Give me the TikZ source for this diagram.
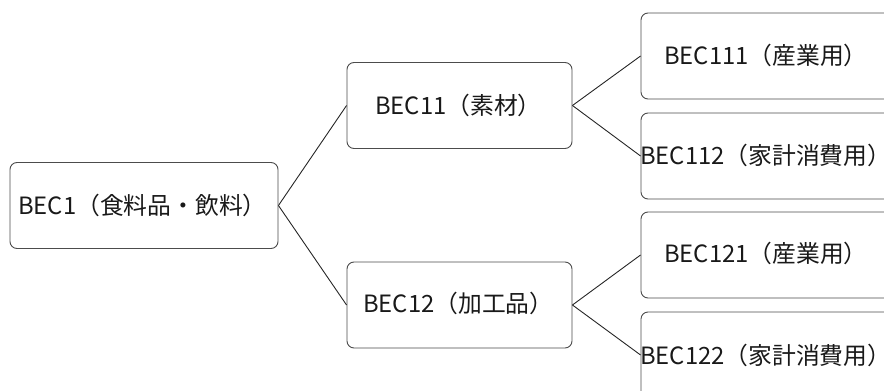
\documentclass[tikz,border=0pt]{standalone}
\usepackage{fontspec}
\setmainfont{Noto Sans CJK JP}
\begin{document}
\begin{tikzpicture}[x=1pt,y=-1pt,
  box/.style={draw=black!70, line width=0.9pt, rounded corners=7pt, fill=white,
    inner sep=0pt, minimum height=86pt},
  txt/.style={anchor=west, inner sep=0pt, font=\fontsize{23.8pt}{28pt}\selectfont, text=black!90},
  link/.style={draw=black!85, line width=0.9pt}]
\useasboundingbox (0,0) rectangle (884,391);
\clip (0,0) rectangle (884,391);
% boxes
\node[box, minimum width=268pt] (b1)   at (144,205.5) {};
\node[box, minimum width=225pt] (b11)  at (459.5,105.5) {};
\node[box, minimum width=225pt] (b12)  at (459.5,305) {};
\node[box, minimum width=270pt] (b111) at (776,56) {};
\node[box, minimum width=270pt] (b112) at (776,156) {};
\node[box, minimum width=270pt] (b121) at (776,255) {};
\node[box, minimum width=270pt] (b122) at (776,355) {};
% connectors
\draw[link] (b1.east) -- (b11.west);
\draw[link] (b1.east) -- (b12.west);
\draw[link] (b11.east) -- (b111.west);
\draw[link] (b11.east) -- (b112.west);
\draw[link] (b12.east) -- (b121.west);
\draw[link] (b12.east) -- (b122.west);
% labels
\node[txt] (t1)   at (18,205)  {BEC1（食料品・飲料）};
\node[txt] (t11)  at (375,105) {BEC11（素材）};
\node[txt] (t12)  at (363,303) {BEC12（加工品）};
\node[txt] (t111) at (664,55)  {BEC111（産業用）};
\node[txt] (t112) at (640,155) {BEC112（家計消費用）};
\node[txt] (t121) at (664,253) {BEC121（産業用）};
\node[txt] (t122) at (640,355) {BEC122（家計消費用）};
\end{tikzpicture}
\end{document}
